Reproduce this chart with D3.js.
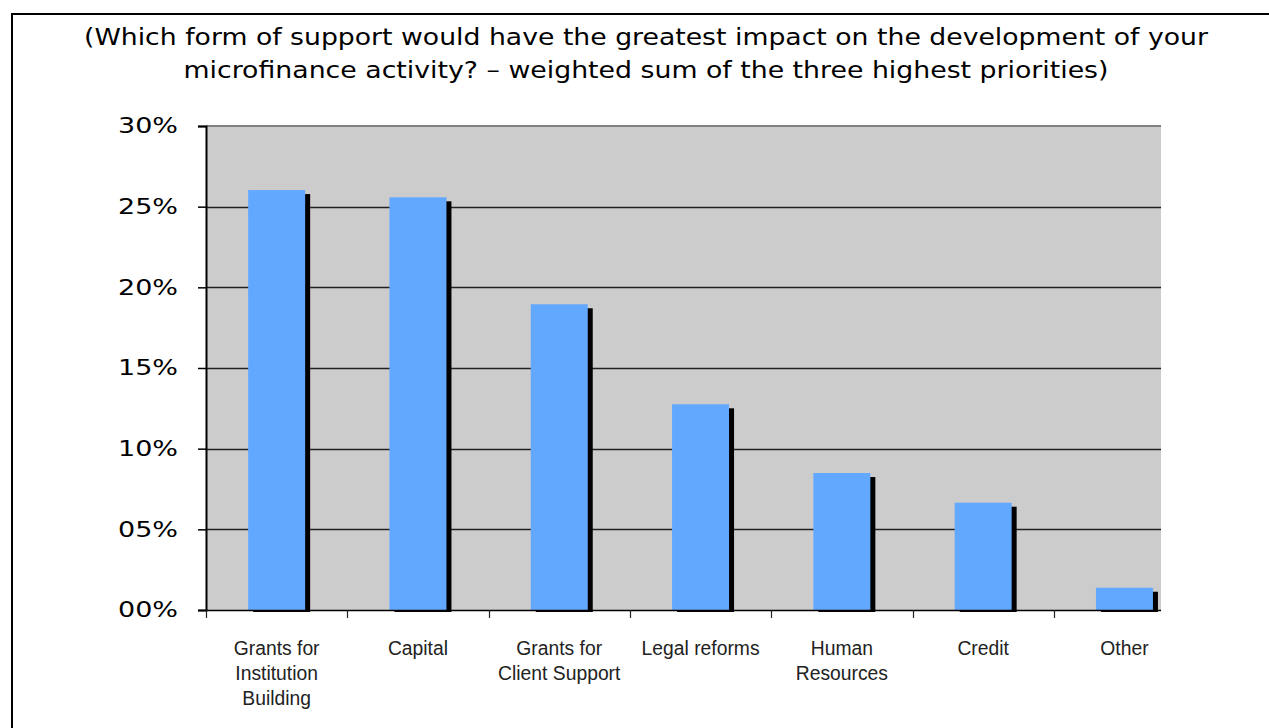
<!DOCTYPE html>
<html lang="en">
<head>
    <meta charset="UTF-8">
    <title>support impact chart</title>
    <style>
        body { margin: 0; background: #fff; }
        svg { display: block; }
    </style>
</head>
<body>
    <script src="https://d3js.org/d3.v7.min.js"></script>
    <script>
        // data
        const categories = [
            ['Grants for', 'Institution', 'Building'],
            ['Capital'],
            ['Grants for', 'Client Support'],
            ['Legal reforms'],
            ['Human', 'Resources'],
            ['Credit'],
            ['Other']
        ];
        const values = [0.2603, 0.2558, 0.1895, 0.1275, 0.0849, 0.0665, 0.0138];
        const yTicks = [0, 0.05, 0.10, 0.15, 0.20, 0.25, 0.30];
        const titleLines = [
            '(Which form of support would have the greatest impact on the development of your',
            'microfinance activity? \u2013 weighted sum of the three highest priorities)'
        ];
        const titleWidths = [1124, 925];

        const width = 1269,
            height = 728,
            plotLeft = 206,
            plotRight = 1161,
            plotTop = 126,
            plotBottom = 610,
            step = 141.3;

        const svg = d3.select('body').append('svg')
            .attr('width', width).attr('height', height);

        // outer frame (only top and left edges are visible in the crop)
        svg.append('path')
            .attr('d', 'M12,' + height + ' V14 H' + width)
            .attr('fill', 'none')
            .attr('stroke', '#000')
            .attr('stroke-width', 2);

        svg.append('g').selectAll('text')
            .data(titleLines)
            .enter().append('text')
            .attr('x', function(d, i) { return 646 - titleWidths[i] / 2; })
            .attr('y', function(d, i) { return 45 + i * 33; })
            .attr('textLength', function(d, i) { return titleWidths[i]; })
            .attr('lengthAdjust', 'spacingAndGlyphs')
            .style('font-family', 'DejaVu Sans, Verdana, sans-serif')
            .style('font-size', '23px')
            .attr('fill', '#000')
            .text(function(d) { return d; });

        const x = d3.scaleBand()
            .domain(d3.range(categories.length))
            .range([plotLeft, plotLeft + step * categories.length])
            .padding(0);

        const y = d3.scaleLinear()
            .domain([0, 0.30])
            .range([plotBottom, plotTop]);

        const barW = 57;

        svg.append('defs').append('clipPath').attr('id', 'plotclip')
            .append('rect')
            .attr('x', plotLeft).attr('y', plotTop - 2)
            .attr('width', plotRight - plotLeft).attr('height', plotBottom - plotTop + 6);

        // plot background
        svg.append('rect')
            .attr('x', plotLeft).attr('y', plotTop)
            .attr('width', plotRight - plotLeft).attr('height', plotBottom - plotTop)
            .attr('fill', '#cccccc');

        // gridlines
        svg.append('g').selectAll('line')
            .data(yTicks.slice(1, -1))
            .enter().append('line')
            .attr('x1', plotLeft).attr('x2', plotRight)
            .attr('y1', function(d) { return Math.round(y(d)) + 0.5; })
            .attr('y2', function(d) { return Math.round(y(d)) + 0.5; })
            .attr('stroke', '#222')
            .attr('stroke-width', 1.3);

        // top border of plot area
        svg.append('line')
            .attr('x1', plotLeft).attr('x2', plotRight)
            .attr('y1', plotTop).attr('y2', plotTop)
            .attr('stroke', '#808080').attr('stroke-width', 2);

        const bars = svg.append('g').attr('clip-path', 'url(#plotclip)');

        // shadows
        bars.selectAll('rect.shadow')
            .data(values)
            .enter().append('rect')
            .attr('class', 'shadow')
            .attr('x', function(d, i) { return x(i) + x.bandwidth() / 2 - barW / 2 + 5; })
            .attr('y', function(d) { return y(d) + 4; })
            .attr('width', barW)
            .attr('height', function(d) { return plotBottom + 2 - (y(d) + 4); })
            .attr('fill', '#000');

        bars.selectAll('rect.bar')
            .data(values)
            .enter().append('rect')
            .attr('class', 'bar')
            .attr('x', function(d, i) { return x(i) + x.bandwidth() / 2 - barW / 2; })
            .attr('y', function(d) { return y(d); })
            .attr('width', barW)
            .attr('height', function(d) { return plotBottom - y(d); })
            .attr('fill', '#63a8ff');

        // y axis
        const yAxis = svg.append('g')
            .attr('transform', 'translate(' + plotLeft + ',0)')
            .call(d3.axisLeft(y)
                .tickValues(yTicks)
                .tickSize(8)
                .tickPadding(20)
                .tickFormat(function(d) { return d3.format('02d')(Math.round(d * 100)) + '%'; }));
        yAxis.select('.domain').attr('stroke', '#000').attr('stroke-width', 2);
        yAxis.selectAll('.tick line').attr('stroke', '#000').attr('stroke-width', 1.5);
        yAxis.selectAll('.tick text')
            .attr('x', -88)
            .attr('text-anchor', 'start')
            .attr('textLength', 60)
            .attr('lengthAdjust', 'spacingAndGlyphs')
            .style('font-family', 'DejaVu Sans, Verdana, sans-serif')
            .style('font-size', '21px')
            .attr('fill', '#000');

        // x axis
        const xAxis = svg.append('g')
            .attr('transform', 'translate(0,' + plotBottom + ')');
        xAxis.append('line')
            .attr('x1', plotLeft).attr('x2', plotRight)
            .attr('y1', 0.5).attr('y2', 0.5)
            .attr('stroke', '#000').attr('stroke-width', 1.5);
        xAxis.selectAll('line.tick')
            .data(d3.range(categories.length))
            .enter().append('line')
            .attr('class', 'tick')
            .attr('x1', function(d) { return Math.round(x(d)) + 0.5; })
            .attr('x2', function(d) { return Math.round(x(d)) + 0.5; })
            .attr('y1', 0).attr('y2', 8)
            .attr('stroke', '#222').attr('stroke-width', 1.2);

        const labels = xAxis.selectAll('text')
            .data(categories)
            .enter().append('text')
            .attr('text-anchor', 'middle')
            .attr('transform', function(d, i) { return 'translate(' + (x(i) + x.bandwidth() / 2) + ',0) scale(0.92,1)'; })
            .style('font-family', '"Liberation Sans", Arial, sans-serif')
            .style('font-size', '21px')
            .attr('fill', '#222');
        labels.selectAll('tspan')
            .data(function(d) { return d; })
            .enter().append('tspan')
            .attr('x', 0)
            .attr('y', function(d, i) { return 45 + i * 25; })
            .text(function(d) { return d; });
    </script>
</body>
</html>
